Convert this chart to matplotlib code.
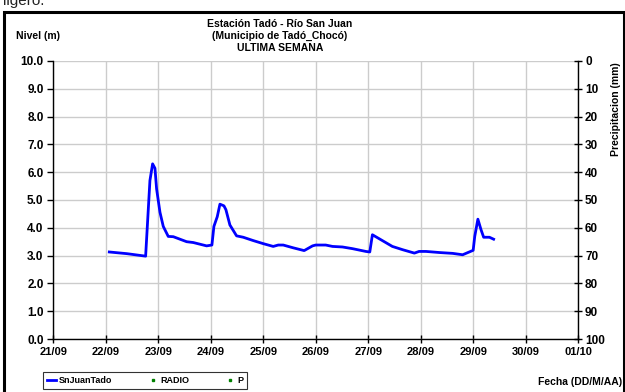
import matplotlib
matplotlib.use("Agg")
import matplotlib.pyplot as plt
from matplotlib.patches import Rectangle
from matplotlib.lines import Line2D

plt.rcParams['font.family'] = ['Liberation Sans', 'DejaVu Sans']

# Time as fractional day of September (31 = 01/10)
days = [22.067, 22.40, 22.759, 22.841, 22.892, 22.937, 22.968, 23.032, 23.095, 23.190,
        23.286, 23.540, 23.667, 23.921, 24.022, 24.060, 24.124, 24.175, 24.251, 24.289,
        24.365, 24.492, 24.619, 24.810, 25.0, 25.19, 25.286, 25.381, 25.571, 25.78,
        25.94, 26.0, 26.19, 26.32, 26.51, 26.70, 26.955, 27.03, 27.08, 27.27,
        27.46, 27.66, 27.88, 27.97, 28.10, 28.36, 28.61, 28.80, 29.0, 29.03,
        29.09, 29.15, 29.20, 29.31, 29.39]
levels = [3.13, 3.07, 2.98, 5.70, 6.30, 6.14, 5.40, 4.56, 4.05, 3.69,
          3.68, 3.50, 3.47, 3.35, 3.38, 4.05, 4.40, 4.85, 4.79, 4.65,
          4.10, 3.71, 3.66, 3.54, 3.43, 3.33, 3.38, 3.38, 3.28, 3.18,
          3.35, 3.38, 3.38, 3.33, 3.31, 3.25, 3.15, 3.13, 3.75, 3.54,
          3.33, 3.21, 3.09, 3.15, 3.15, 3.11, 3.08, 3.03, 3.19, 3.69,
          4.31, 3.93, 3.66, 3.66, 3.59]

tick_days = [21, 22, 23, 24, 25, 26, 27, 28, 29, 30, 31]
tick_labels = ['21/09', '22/09', '23/09', '24/09', '25/09', '26/09',
               '27/09', '28/09', '29/09', '30/09', '01/10']
level_ticks = [0, 1, 2, 3, 4, 5, 6, 7, 8, 9, 10]
precip_ticks = [0, 10, 20, 30, 40, 50, 60, 70, 80, 90, 100]

fig = plt.figure(figsize=(6.25, 3.92), dpi=100)
ax = fig.add_axes([0.0853, 0.1352, 0.8397, 0.7092])

ax.plot(days, levels, color='#0000FF', lw=2.0, solid_joinstyle='round')
ax.set_xlim(21, 31)
ax.set_ylim(0, 10)
ax.set_xticks(tick_days)
ax.set_xticklabels(tick_labels, fontsize=8, fontweight='bold')
ax.set_yticks(level_ticks)
ax.set_yticklabels([f'{v:.1f}' for v in level_ticks], fontsize=8.5, fontweight='bold')
ax.grid(True, color='#cccccc', lw=1.0)
ax.set_axisbelow(True)
ax.spines['top'].set_visible(False)
ax.spines['right'].set_visible(False)
for s in ['left', 'bottom']:
    ax.spines[s].set_linewidth(1.0)
ax.tick_params(axis='x', direction='inout', length=6, pad=3, width=1)
ax.tick_params(axis='y', direction='out', length=4, pad=3, width=1)

ax2 = ax.twinx()
ax2.set_ylim(100, 0)
ax2.set_yticks(precip_ticks)
ax2.set_yticklabels([str(v) for v in precip_ticks], fontsize=8.5, fontweight='bold')
ax2.tick_params(axis='y', direction='inout', length=6, pad=2, width=1)
for s in ['top', 'left', 'bottom']:
    ax2.spines[s].set_visible(False)
ax2.spines['right'].set_linewidth(1.0)
fig.text(0.993, 0.722, 'Precipitacion (mm)', rotation=90, ha='right', va='center',
         fontsize=7.5, fontweight='bold')

fig.text(0.448, 0.940, 'Estación Tadó - Río San Juan', ha='center', va='center',
         fontsize=7.5, fontweight='bold')
fig.text(0.448, 0.909, '(Municipio de Tadó_Chocó)', ha='center', va='center',
         fontsize=7.5, fontweight='bold')
fig.text(0.448, 0.878, 'ULTIMA SEMANA', ha='center', va='center',
         fontsize=7.5, fontweight='bold')
fig.text(0.025, 0.909, 'Nivel (m)', ha='left', va='center', fontsize=7.5, fontweight='bold')
fig.text(0.995, 0.025, 'Fecha (DD/M/AA)', ha='right', va='center', fontsize=7.5, fontweight='bold')

fig.text(0.005, 0.998, 'ligero.', ha='left', va='center', fontsize=11, color='#222222')

# outer frame
fig.patches.append(Rectangle((0.006, -0.02), 0.992, 0.989, transform=fig.transFigure,
                             fill=False, edgecolor='black', lw=2.2))

handles = [Line2D([], [], color='#0000FF', lw=2),
           Line2D([], [], color='#008000', marker='s', ms=2, ls='none'),
           Line2D([], [], color='#008000', marker='s', ms=2, ls='none')]
leg = fig.legend(handles, ['SnJuanTado', 'RADIO', 'P'], ncol=3,
                 loc='lower left', bbox_to_anchor=(43 / 625, 3 / 392, 204 / 625, 19 / 392),
                 mode='expand', frameon=True, borderaxespad=0,
                 fancybox=False, edgecolor='black',
                 prop={'weight': 'bold', 'size': 6.5}, handlelength=1.0,
                 columnspacing=2.0, borderpad=0.45, handletextpad=0.3)
leg.get_frame().set_linewidth(0.8)

fig.savefig('out.png', dpi=100)
